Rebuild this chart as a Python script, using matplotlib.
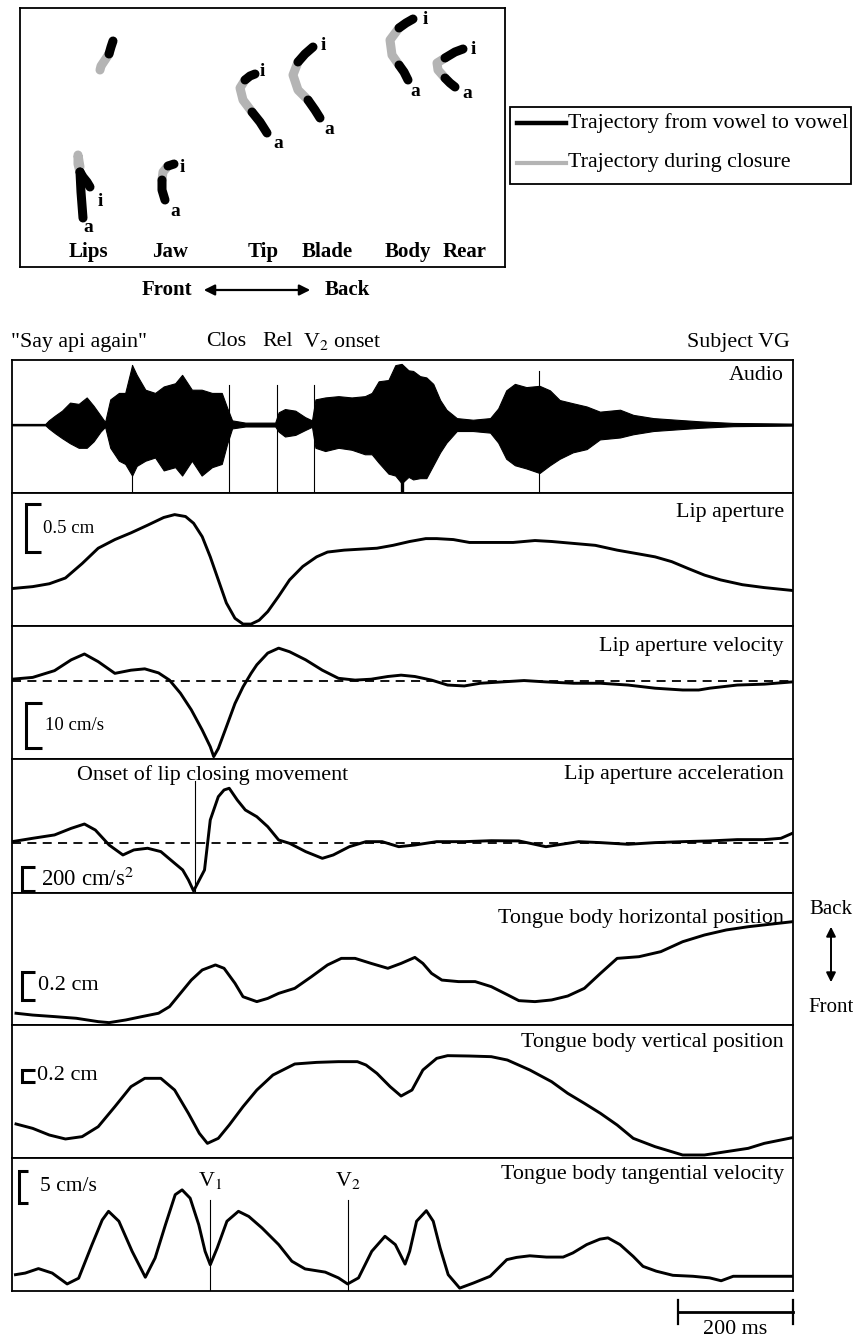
import matplotlib
matplotlib.use('Agg')
import matplotlib.pyplot as plt
from matplotlib.patches import Rectangle
from matplotlib.transforms import blended_transform_factory as blend

plt.rcParams['font.family'] = ['Liberation Serif', 'DejaVu Serif']
plt.rcParams['mathtext.fontset'] = 'stix'

# ---------------- data: articulator trajectories (top panel) ----------------
articulators = ['Lips', 'Jaw', 'Tip', 'Blade', 'Body', 'Rear']
label_x = [68, 150, 243, 307, 388, 445]

upperlip_black_x = [93, 91, 89]
upperlip_black_y = [226, 220, 213]
upperlip_gray_x = [89, 85, 81, 80]
upperlip_gray_y = [213, 207, 201, 197]

lips_a_x = [63, 62, 61, 60];       lips_a_y = [49, 62, 75, 95]
lips_gray_x = [60, 58, 58, 60];    lips_gray_y = [95, 103, 112, 100]
lips_i_x = [60, 63, 67, 70];       lips_i_y = [95, 90, 85, 80]

jaw_a_x = [145, 142, 142];         jaw_a_y = [67, 77, 87]
jaw_gray_x = [142, 143, 148];      jaw_gray_y = [87, 95, 101]
jaw_i_x = [148, 154];              jaw_i_y = [101, 103]

tip_a_x = [247, 240, 232];         tip_a_y = [134, 145, 155]
tip_gray_x = [232, 223, 220, 225]; tip_gray_y = [155, 167, 179, 187]
tip_i_x = [225, 230, 235];         tip_i_y = [187, 191, 193]

blade_a_x = [300, 295, 288];       blade_a_y = [149, 157, 167]
blade_gray_x = [288, 278, 273, 278]; blade_gray_y = [167, 177, 192, 205]
blade_i_x = [278, 285, 293];       blade_i_y = [205, 213, 220]

body_a_x = [388, 384, 379];        body_a_y = [187, 195, 202]
body_gray_x = [379, 372, 370, 379]; body_gray_y = [202, 212, 227, 239]
body_i_x = [379, 386, 393];        body_i_y = [239, 244, 248]

rear_a_x = [435, 430, 425];        rear_a_y = [180, 184, 189]
rear_gray_x = [425, 418, 417, 425]; rear_gray_y = [189, 197, 204, 209]
rear_i_x = [425, 435, 443];        rear_i_y = [209, 215, 218]

i_label_x = [80, 162, 242, 303, 405, 453]
i_label_y = [65, 100, 195, 222, 247, 217]
a_label_x = [68, 155, 258, 309, 395, 447]
a_label_y = [39, 55, 124, 137, 175, 174]

# ---------------- data: time series (ms) ----------------
audio_t = [0, 58, 64, 75, 87, 101, 116, 130, 142, 154, 162, 171, 186, 197, 209, 217, 232, 249,
           264, 284, 296, 313, 330, 348, 365, 374, 383, 406, 458, 464, 475, 493, 510, 522, 528,
           545, 568, 591, 614, 626, 638, 655, 667, 678, 690, 698, 710, 721, 733, 745, 756, 774,
           802, 832, 846, 860, 875, 895, 918, 936, 953, 976, 1000, 1023, 1058, 1081, 1116, 1156,
           1197, 1255, 1358]
audio_up = [0.01, 0.01, 0.065, 0.14, 0.215, 0.34, 0.32, 0.42, 0.29, 0.14, 0.04, 0.39, 0.49,
            0.49, 0.92, 0.77, 0.54, 0.49, 0.59, 0.64, 0.77, 0.54, 0.54, 0.49, 0.49, 0.27, 0.065,
            0.03, 0.03, 0.19, 0.24, 0.215, 0.115, 0.065, 0.39, 0.42, 0.44, 0.42, 0.44, 0.49,
            0.67, 0.69, 0.92, 0.94, 0.84, 0.83, 0.75, 0.73, 0.63, 0.38, 0.23, 0.10, 0.075, 0.10,
            0.25, 0.53, 0.63, 0.58, 0.60, 0.53, 0.38, 0.33, 0.28, 0.20, 0.23, 0.15, 0.10, 0.075,
            0.05, 0.025, 0.015]
audio_lo = [-0.01, -0.01, -0.06, -0.135, -0.21, -0.29, -0.36, -0.36, -0.26, -0.11, -0.035,
            -0.36, -0.56, -0.61, -0.79, -0.64, -0.56, -0.51, -0.71, -0.66, -0.79, -0.56, -0.79,
            -0.66, -0.61, -0.31, -0.06, -0.03, -0.03, -0.11, -0.185, -0.16, -0.085, -0.035,
            -0.36, -0.41, -0.36, -0.39, -0.46, -0.46, -0.59, -0.76, -0.79, -0.91, -0.81, -0.85,
            -0.83, -0.83, -0.63, -0.43, -0.28, -0.10, -0.10, -0.125, -0.28, -0.53, -0.63, -0.68,
            -0.75, -0.63, -0.53, -0.43, -0.38, -0.23, -0.20, -0.15, -0.10, -0.075, -0.05,
            -0.025, -0.015]
audio_marks_t = [209, 377, 461, 526, 917]
audio_marks_top = [0.92, 0.62, 0.62, 0.62, 0.83]

la_t = [0, 36, 65, 93, 122, 150, 179, 207, 236, 264, 283, 302, 316, 331, 345, 359, 373, 388,
        402, 416, 430, 445, 464, 483, 506, 530, 549, 578, 606, 635, 663, 692, 720, 739, 768,
        796, 834, 872, 910, 939, 977, 1015, 1053, 1091, 1119, 1148, 1176, 1205, 1233, 1271,
        1309, 1358]
la_cm = [0.39, 0.41, 0.44, 0.50, 0.65, 0.81, 0.90, 0.97, 1.05, 1.13, 1.16, 1.14, 1.07, 0.93,
         0.72, 0.48, 0.24, 0.08, 0.02, 0.02, 0.06, 0.15, 0.31, 0.48, 0.62, 0.72, 0.77, 0.79,
         0.80, 0.81, 0.84, 0.88, 0.91, 0.91, 0.90, 0.87, 0.87, 0.87, 0.89, 0.88, 0.86, 0.84,
         0.79, 0.75, 0.72, 0.67, 0.60, 0.53, 0.48, 0.43, 0.40, 0.37]

lv_t = [0, 36, 74, 103, 126, 150, 179, 207, 231, 255, 274, 293, 312, 331, 345, 351, 359, 373,
        388, 402, 416, 426, 445, 464, 483, 511, 540, 568, 597, 625, 654, 677, 701, 730, 758,
        787, 815, 853, 891, 929, 977, 1024, 1072, 1119, 1167, 1195, 1214, 1262, 1309, 1358]
lv_cms = [0.4, 0.8, 2.3, 4.7, 6.0, 4.3, 1.7, 2.4, 2.7, 1.8, 0.2, -2.7, -6.4, -10.9, -14.6,
          -16.8, -15.0, -10.2, -5.0, -1.3, 1.7, 3.6, 6.2, 7.3, 6.5, 4.7, 2.4, 0.6, 0.2, 0.4,
          1.0, 1.3, 1.0, 0.2, -0.9, -1.1, -0.5, -0.2, 0.1, -0.2, -0.5, -0.5, -0.9, -1.6, -2.0,
          -2.0, -1.6, -0.9, -0.7, -0.2]

acc_t = [0, 36, 74, 103, 126, 145, 169, 193, 212, 236, 259, 283, 297, 307, 316, 335, 345, 359,
         369, 378, 392, 406, 426, 445, 464, 483, 511, 540, 559, 587, 616, 644, 673, 701, 739,
         787, 834, 882, 929, 948, 986, 1024, 1072, 1119, 1167, 1214, 1262, 1309, 1338, 1358]
acc_cms2 = [11, 39, 67, 122, 158, 108, -17, -100, -58, -44, -72, -169, -225, -308, -400, -225,
            192, 386, 442, 456, 358, 275, 219, 136, 25, -3, -72, -128, -100, -31, 11, 11, -31,
            -17, 11, 11, 19, 17, -31, -17, 11, 3, -11, 3, 11, 17, 28, 28, 39, 81]

th_t = [7, 36, 74, 112, 150, 169, 198, 226, 255, 274, 293, 312, 331, 354, 369, 388, 402, 426,
        445, 464, 492, 521, 549, 573, 597, 625, 654, 677, 701, 715, 730, 748, 777, 806, 834,
        863, 882, 910, 939, 967, 996, 1024, 1053, 1091, 1129, 1167, 1205, 1243, 1281, 1358]
th_cm = [0.084, 0.071, 0.060, 0.048, 0.024, 0.017, 0.036, 0.060, 0.084, 0.131, 0.226, 0.321,
         0.393, 0.429, 0.405, 0.298, 0.202, 0.167, 0.190, 0.226, 0.262, 0.345, 0.429, 0.476,
         0.476, 0.440, 0.405, 0.440, 0.483, 0.440, 0.369, 0.321, 0.310, 0.310, 0.274, 0.214,
         0.174, 0.167, 0.179, 0.207, 0.262, 0.369, 0.476, 0.488, 0.524, 0.595, 0.643, 0.679,
         0.702, 0.738]

tv_t = [7, 36, 65, 93, 122, 150, 179, 207, 231, 259, 283, 307, 326, 340, 359, 378, 402, 426,
        454, 492, 530, 568, 601, 616, 635, 658, 677, 696, 715, 739, 758, 796, 834, 862, 901,
        939, 967, 996, 1024, 1053, 1081, 1119, 1167, 1205, 1243, 1281, 1309, 1358]
tv_cm = [0.567, 0.494, 0.383, 0.317, 0.356, 0.522, 0.856, 1.189, 1.328, 1.328, 1.133, 0.744,
         0.411, 0.244, 0.328, 0.550, 0.856, 1.133, 1.383, 1.567, 1.594, 1.606, 1.606, 1.550,
         1.411, 1.189, 1.033, 1.133, 1.467, 1.661, 1.706, 1.700, 1.689, 1.633, 1.467, 1.272,
         1.078, 0.911, 0.744, 0.550, 0.328, 0.189, 0.050, 0.050, 0.106, 0.161, 0.244, 0.339]

tg_t = [6, 23, 46, 70, 96, 116, 139, 157, 168, 186, 209, 232, 249, 267, 284, 296, 310, 325,
        336, 345, 357, 374, 394, 412, 435, 464, 487, 510, 545, 568, 584, 603, 626, 649, 667,
        684, 692, 704, 721, 733, 745, 759, 779, 803, 832, 861, 878, 901, 930, 959, 976, 1000,
        1023, 1037, 1058, 1081, 1098, 1121, 1150, 1185, 1214, 1234, 1255, 1358]
tg_cms = [2.55, 2.8, 3.5, 2.8, 1.1, 2.0, 7.2, 11.1, 12.45, 10.9, 6.2, 2.15, 5.15, 10.35, 15.05,
          15.8, 14.5, 10.35, 6.2, 4.1, 6.7, 10.9, 12.45, 11.65, 9.85, 7.25, 4.65, 3.45, 2.95,
          2.05, 1.1, 2.05, 6.2, 8.55, 7.25, 4.2, 6.2, 10.9, 12.55, 10.9, 6.7, 2.55, 0.45, 1.25,
          2.3, 4.9, 5.25, 5.5, 5.3, 5.3, 5.95, 7.25, 8.1, 8.3, 7.25, 5.4, 3.85, 3.1, 2.45, 2.3,
          2.05, 1.6, 2.3, 2.3]

panel_names = ['Audio', 'Lip aperture', 'Lip aperture velocity', 'Lip aperture acceleration',
               'Tongue body horizontal position', 'Tongue body vertical position',
               'Tongue body tangential velocity']
scale_labels = [None, '0.5 cm', '10 cm/s', '200 cm/s$^2$', '0.2 cm', '0.2 cm', '5 cm/s']
scale_sizes = [None, 0.5, 10, 200, 0.2, 0.2, 5]
onset_t = 318
v1_t, v2_t = 344, 584

# ---------------- figure ----------------
W, H = 854, 1339
fig = plt.figure(figsize=(W / 100, H / 100), dpi=100)


def box(x0, y0, x1, y1):
    return [x0 / W, 1 - y1 / H, (x1 - x0) / W, (y1 - y0) / H]


ov = fig.add_axes([0, 0, 1, 1], zorder=5)
ov.set_xlim(0, W); ov.set_ylim(H, 0); ov.axis('off')
ov.patch.set_alpha(0)

FS = 15.8
# ---- top box ----
at = fig.add_axes(box(20, 8, 505, 267))
at.set_xlim(0, 485); at.set_ylim(0, 259)
at.set_xticks([]); at.set_yticks([])
for s in at.spines.values():
    s.set_linewidth(1.3)

BLACKW, GRAYC = 6.5, '#b4b4b4'
traj = [
    (lips_a_x, lips_a_y, lips_gray_x, lips_gray_y, lips_i_x, lips_i_y),
    (jaw_a_x, jaw_a_y, jaw_gray_x, jaw_gray_y, jaw_i_x, jaw_i_y),
    (tip_a_x, tip_a_y, tip_gray_x, tip_gray_y, tip_i_x, tip_i_y),
    (blade_a_x, blade_a_y, blade_gray_x, blade_gray_y, blade_i_x, blade_i_y),
    (body_a_x, body_a_y, body_gray_x, body_gray_y, body_i_x, body_i_y),
    (rear_a_x, rear_a_y, rear_gray_x, rear_gray_y, rear_i_x, rear_i_y),
]
for ax_, ay_, gx_, gy_, ix_, iy_ in traj:
    at.plot(gx_, gy_, color=GRAYC, lw=BLACKW, solid_capstyle='round', solid_joinstyle='round')
    at.plot(ax_, ay_, color='black', lw=BLACKW, solid_capstyle='round', solid_joinstyle='round')
    at.plot(ix_, iy_, color='black', lw=BLACKW, solid_capstyle='round', solid_joinstyle='round')
at.plot(upperlip_gray_x, upperlip_gray_y, color=GRAYC, lw=BLACKW, solid_capstyle='round')
at.plot(upperlip_black_x, upperlip_black_y, color='black', lw=BLACKW, solid_capstyle='round')

for x, y in zip(i_label_x, i_label_y):
    at.text(x, y, 'i', fontsize=14, fontweight='bold', ha='center', va='center')
for x, y in zip(a_label_x, a_label_y):
    at.text(x, y, 'a', fontsize=14, fontweight='bold', ha='center', va='center')
for name, x in zip(articulators, label_x):
    at.text(x, 15, name, fontsize=15, fontweight='bold', ha='center', va='center')

ov.text(167, 290, 'Front', fontsize=15, fontweight='bold', ha='center', va='center')
ov.text(347, 290, 'Back', fontsize=15, fontweight='bold', ha='center', va='center')
ov.annotate('', xy=(313, 290), xytext=(201, 290),
            arrowprops=dict(arrowstyle='<|-|>', color='black', lw=1.6, mutation_scale=16))

# ---- legend box ----
ov.add_patch(Rectangle((510, 107), 341, 77, fill=False, lw=1.3, ec='black'))
ov.plot([517, 566], [123, 123], color='black', lw=3.2)
ov.plot([517, 566], [163, 163], color=GRAYC, lw=3.0)
ov.text(568, 123, 'Trajectory from vowel to vowel', fontsize=FS, ha='left', va='center')
ov.text(568, 163, 'Trajectory during closure', fontsize=FS, ha='left', va='center')

# ---- header labels ----
ov.text(11, 342, '"Say api again"', fontsize=FS, ha='left', va='center')
ov.text(226, 342, 'Clos', fontsize=FS, ha='center', va='center')
ov.text(278, 342, 'Rel', fontsize=FS, ha='center', va='center')
ov.text(303, 342, 'V$_2$ onset', fontsize=FS, ha='left', va='center')
ov.text(790, 342, 'Subject VG', fontsize=FS, ha='right', va='center')

# ---- panels ----
panel_y = [(360, 493), (493, 626), (626, 759), (759, 893), (893, 1025), (1025, 1158), (1158, 1291)]
ylims = [(-1.06, 1.0), (0, 1.385), (-17.33, 12.22), (-417, 700), (0, 0.943), (0, 2.217), (0, 20.78)]
label_y = [375, 512, 647, 775, 918, 1042, 1175]
TMAX = 1359
axes = []
for (y0, y1), yl in zip(panel_y, ylims):
    a = fig.add_axes(box(12, y0, 793, y1))
    a.set_xlim(0, TMAX); a.set_ylim(*yl)
    a.set_xticks([]); a.set_yticks([])
    for s in a.spines.values():
        s.set_linewidth(1.3)
    axes.append(a)

LW = 2.1
# audio
a0 = axes[0]
a0.fill_between(audio_t, audio_lo, audio_up, color='black', lw=0.8)
a0.axhline(0, color='black', lw=1.0)
for t, top in zip(audio_marks_t, audio_marks_top):
    a0.plot([t, t], [-1.06, top], color='black', lw=0.8)
a0.plot([678, 678], [-1.06, -0.6], color='black', lw=2.4)

axes[1].plot(la_t, la_cm, color='black', lw=LW)
axes[2].plot(lv_t, lv_cms, color='black', lw=LW)
axes[2].axhline(0, color='black', lw=1.3, ls=(0, (5, 3.5)))
axes[3].plot(acc_t, acc_cms2, color='black', lw=LW)
axes[3].axhline(0, color='black', lw=1.3, ls=(0, (5, 3.5)))
axes[3].plot([onset_t, onset_t], [-417, 520], color='black', lw=0.8)
axes[4].plot(th_t, th_cm, color='black', lw=LW)
axes[5].plot(tv_t, tv_cm, color='black', lw=LW)
axes[6].plot(tg_t, tg_cms, color='black', lw=LW)
for t in (v1_t, v2_t):
    axes[6].plot([t, t], [0, 14.2], color='black', lw=0.8)
axes[6].text(v1_t, 17.3, 'V$_1$', fontsize=FS, ha='center', va='center')
axes[6].text(v2_t, 17.3, 'V$_2$', fontsize=FS, ha='center', va='center')

for name, y in zip(panel_names, label_y):
    ov.text(784, y, name, fontsize=FS, ha='right', va='center')
ov.text(77, 775, 'Onset of lip closing movement', fontsize=FS, ha='left', va='center')

# scale brackets: bottom value, x positions (px) of bar / serif end / label, label size
bracket_bottom = [None, 0.77, -14.9, -400, 0.179, 1.267, 13.75]
bracket_px = [None, (26, 41, 43), (26, 42, 45), (22, 35, 41), (22, 35, 38), (22, 35, 37), (19, 28, 40)]
bracket_fs = [None, 13.5, 13.5, 16.5, 16.0, 16.0, 15.5]
for a, lab, size, b, bp, fs in zip(axes, scale_labels, scale_sizes, bracket_bottom, bracket_px, bracket_fs):
    if lab is None:
        continue
    tr = blend(a.transAxes, a.transData)
    x0, x1, xl = [(v - 12) / 781 for v in bp]
    a.plot([x1, x0, x0, x1], [b, b, b + size, b + size], color='black', lw=2.2,
           transform=tr, clip_on=False, solid_joinstyle='miter', solid_capstyle='butt')
    a.text(xl, b + size / 2, lab, fontsize=fs, ha='left', va='center', transform=tr)

# right side Back / Front
ov.text(831, 910, 'Back', fontsize=15, ha='center', va='center')
ov.text(831, 1007, 'Front', fontsize=15, ha='center', va='center')
ov.annotate('', xy=(831, 924), xytext=(831, 985),
            arrowprops=dict(arrowstyle='<|-|>', color='black', lw=1.4, mutation_scale=14))

# 200 ms scale bar
a6 = axes[6]
tr = blend(a6.transData, a6.transAxes)
a6.plot([TMAX - 200, TMAX], [-0.158, -0.158], color='black', lw=2.0, transform=tr, clip_on=False)
for t in (TMAX - 200, TMAX):
    a6.plot([t, t], [-0.07, -0.25], color='black', lw=1.6, transform=tr, clip_on=False)
ov.text(735, 1329, '200 ms', fontsize=FS, ha='center', va='center')

fig.savefig('out.png', dpi=100)
